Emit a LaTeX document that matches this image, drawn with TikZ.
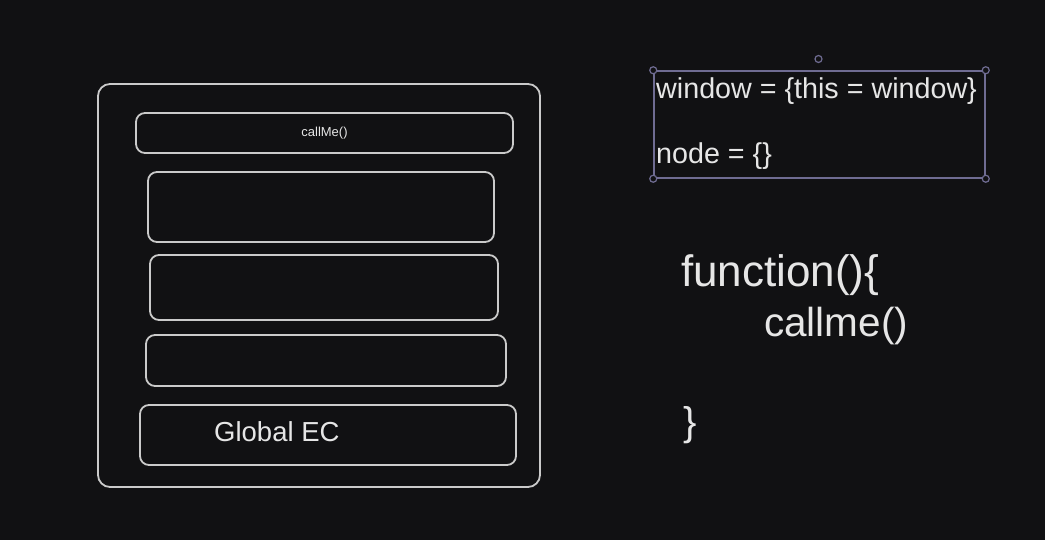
\documentclass[tikz,border=0pt]{standalone}
\usepackage{fontspec}
\setmainfont{Liberation Sans}
\definecolor{bg}{HTML}{111113}
\definecolor{ink}{HTML}{E6E6E6}
\definecolor{sel}{HTML}{6F6C92}
\begin{document}
\begin{tikzpicture}[x=1pt,y=-1pt,
  box/.style={draw=ink!88!black, line width=1.8pt, rounded corners=9pt, inner sep=0pt},
  txt/.style={text=ink, inner sep=0pt, anchor=west},
  handle/.style={circle, draw=sel, fill=bg, line width=1.2pt, minimum size=7pt, inner sep=0pt}]
\fill[bg] (0,0) rectangle (1045,540);
\useasboundingbox (0,0) rectangle (1045,540);
% stack
\node[box, minimum width=442pt, minimum height=403pt, rounded corners=12pt] (outer) at (319,285.5) {};
\node[box, minimum width=377pt, minimum height=40pt] (top) at (324.5,133) {\fontsize{13}{15}\selectfont\color{ink}callMe()};
\node[box, minimum width=346pt, minimum height=70pt] (b2) at (321,207) {};
\node[box, minimum width=348pt, minimum height=65pt] (b3) at (324,287.5) {};
\node[box, minimum width=360pt, minimum height=51pt] (b4) at (326,360.5) {};
\node[box, minimum width=376pt, minimum height=60pt] (glob) at (328,435) {};
\node[txt] (globt) at (214,432) {\fontsize{27.5}{30}\selectfont Global EC};
% selection box
\node[draw=sel, line width=1.5pt, minimum width=331pt, minimum height=107pt, inner sep=0pt] (selbox) at (819.5,124.5) {};
\node[handle] (h1) at (selbox.north west) {};
\node[handle] (h2) at (selbox.north east) {};
\node[handle] (h3) at (selbox.south west) {};
\node[handle] (h4) at (selbox.south east) {};
\node[handle] (h5) at (818.5,59) {};
\node[txt] (win) at (656,91) {\fontsize{28.7}{30}\selectfont window = \{this = window\}};
\node[txt] (nod) at (656,156) {\fontsize{28.7}{30}\selectfont node = \{\}};
% code
\node[txt] (fn) at (681,275) {\fontsize{44}{46}\selectfont function()\{};
\node[txt] (cm) at (764,326) {\fontsize{40.5}{46}\selectfont callme()};
\node[txt] (cb) at (683,425) {\fontsize{40}{46}\selectfont \}};
\end{tikzpicture}
\end{document}
